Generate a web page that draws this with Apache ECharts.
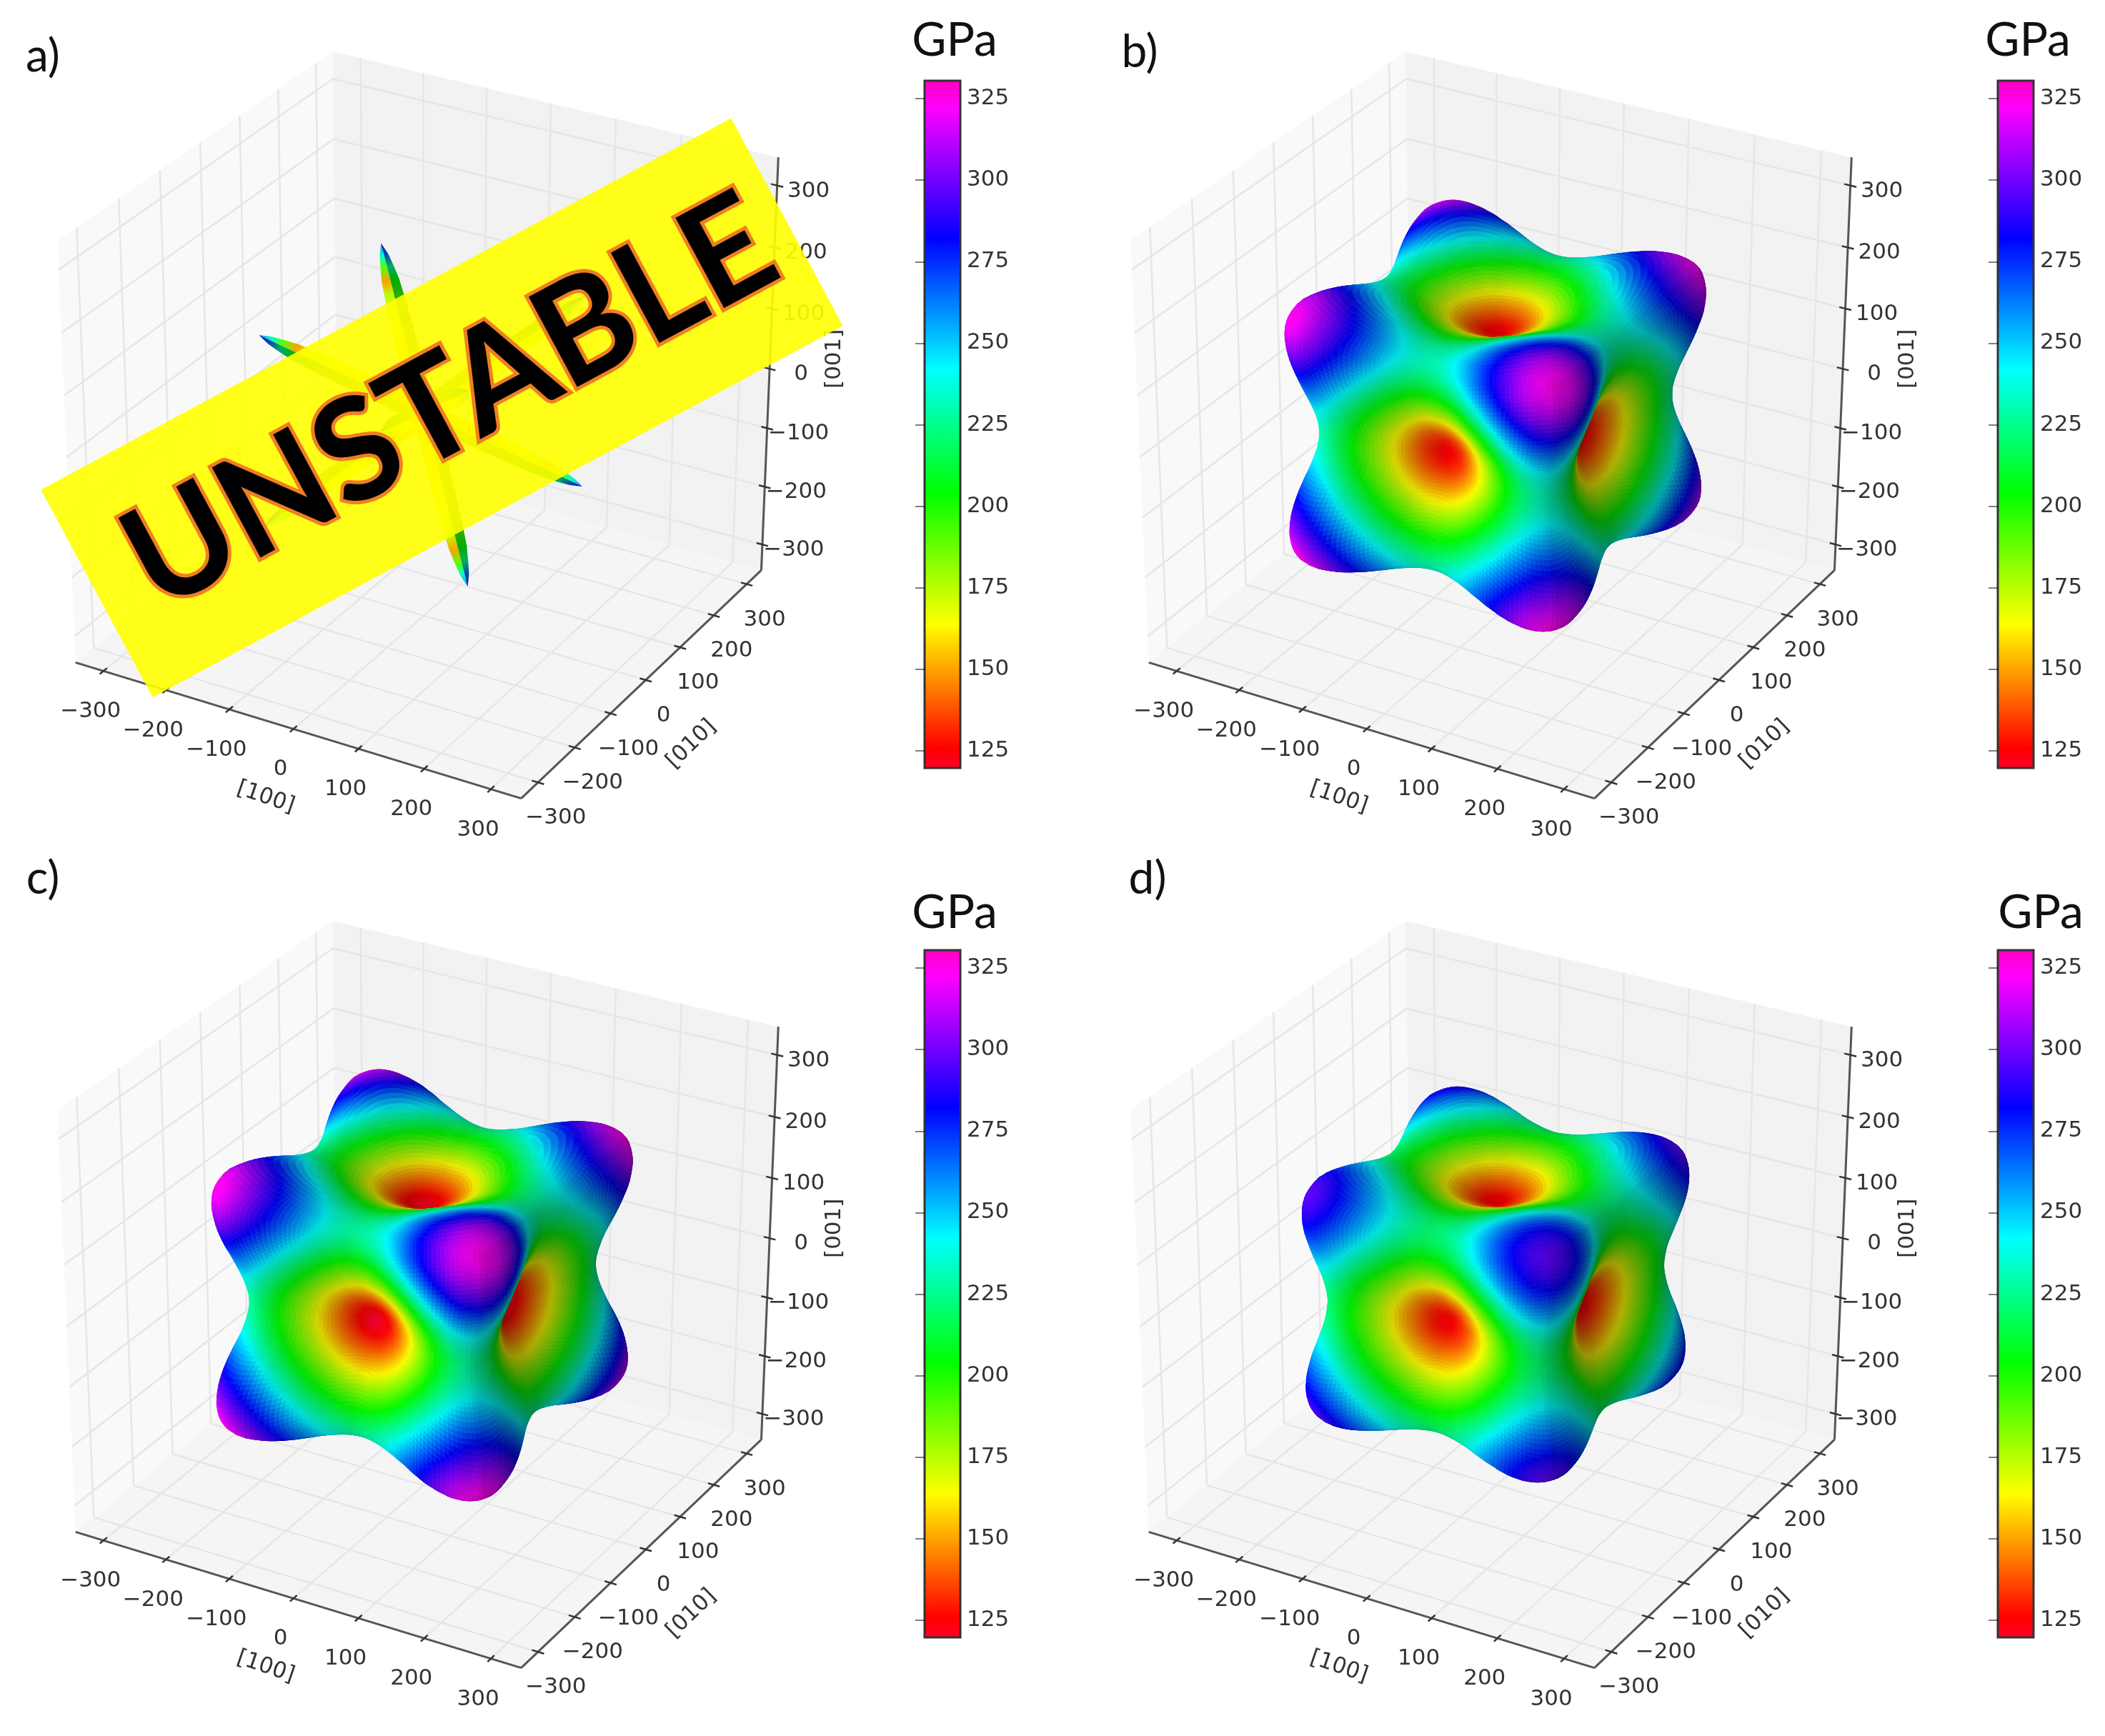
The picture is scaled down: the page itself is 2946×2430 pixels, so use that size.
<!DOCTYPE html>
<html>
<head>
<meta charset="utf-8">
<style>html,body{margin:0;background:#fff}#chart{width:2946px;height:2430px}</style>
<script src="https://cdn.jsdelivr.net/npm/echarts@6/dist/echarts.min.js"></script>
</head>
<body>
<div id="chart"></div>
<script>
// axis ticks shared by every panel
const tickValues = [-300, -200, -100, 0, 100, 200, 300];
const barTicks = [125, 150, 175, 200, 225, 250, 275, 300, 325];
const barRange = [119.7, 330.5];
const axisHalfRange = 345;

// colour scale of the bars
const colorValues = [119.7, 126, 164, 204, 242, 282, 322, 330.5];
const colorStops = ['#ff0029', '#ff0000', '#ffff00', '#00ff00', '#00ffff', '#0000ff', '#ff00ff', '#ff00bf'];

// stiffness in GPa over the irreducible wedge of directions
// row = angle from [100] towards [110], column = tilt towards [111], 5.625 deg steps
const modulusB = [
  [125],
  [127, 130],
  [134, 136, 143],
  [146, 148, 155, 167],
  [163, 165, 172, 185, 202],
  [184, 186, 193, 206, 223, 244],
  [206, 209, 216, 228, 245, 265, 286],
  [225, 227, 234, 245, 261, 280, 300, 315],
  [232, 234, 240, 250, 264, 281, 300, 317, 325]
];
const modulusC = [
  [120],
  [122, 124],
  [129, 131, 138],
  [141, 143, 150, 162],
  [157, 160, 167, 179, 197],
  [178, 181, 188, 201, 219, 240],
  [201, 204, 211, 224, 241, 262, 284],
  [220, 223, 230, 241, 258, 278, 299, 315],
  [228, 230, 236, 246, 260, 279, 299, 317, 325]
];
const modulusD = [
  [125],
  [127, 129],
  [134, 136, 142],
  [144, 147, 153, 164],
  [160, 162, 169, 180, 195],
  [179, 181, 187, 198, 213, 231],
  [199, 201, 207, 218, 232, 249, 266],
  [215, 217, 222, 232, 245, 261, 277, 289],
  [221, 223, 228, 236, 248, 262, 278, 291, 297]
];
const radiusPerGPa = 1.05;

// panel a: thin blades along the <111> directions
const bladeAxes = [[-1, -1, 1], [1, -1, -1], [1, 1, 1], [1, -1, 1]];
const bladeReach = [0, 0.2, 0.4, 0.6, 0.7, 0.78, 0.86, 0.93, 1];
const bladeHalfWidth = [16, 16, 15, 14, 13, 12, 9, 6, 0];
const bladeSideA = [155, 155, 160, 170, 175, 150, 190, 235, 262];
const bladeSideB = [165, 170, 175, 185, 195, 205, 225, 265, 285];
const bladeLength = 275;

const panelNames = ['a)', 'b)', 'c)', 'd)'];
const panelLeft = [0, 1502, 0, 1502];
const panelTop = [0, 0, 1217, 1217];
const panelNameX = [60, 1595, 60, 1606];
const panelNameY = [79, 73, 1230, 1230];
const gpaX = [1336, 2838, 1336, 2856];
const gpaY = [57, 57, 1278, 1278];

// view: elevation 30, azimuth -60, seen from distance 10
const right = [0.866, 0.5, 0];
const up = [-0.25, 0.433, 0.866];
const toEye = [0.433, -0.75, 0.5];
const lightDir = [-2 / 3, -2 / 3, 1 / 3];

function dot(a, b) { return a[0] * b[0] + a[1] * b[1] + a[2] * b[2]; }
function cross(a, b) {
  return [a[1] * b[2] - a[2] * b[1], a[2] * b[0] - a[0] * b[2], a[0] * b[1] - a[1] * b[0]];
}
function project(p) {
  const n = [p[0] / (2 * axisHalfRange), p[1] / (2 * axisHalfRange), p[2] / (2 * axisHalfRange)];
  const d = 10 - dot(n, toEye);
  return [dot(n, right) / d, dot(n, up) / d];
}

function gpaRgb(v) {
  let i = 0;
  while (i < colorValues.length - 2 && v > colorValues[i + 1]) i++;
  const f = Math.max(0, Math.min(1, (v - colorValues[i]) / (colorValues[i + 1] - colorValues[i])));
  const a = hex(colorStops[i]), b = hex(colorStops[i + 1]);
  return [a[0] + (b[0] - a[0]) * f, a[1] + (b[1] - a[1]) * f, a[2] + (b[2] - a[2]) * f];
}
function hex(s) {
  return [parseInt(s.slice(1, 3), 16), parseInt(s.slice(3, 5), 16), parseInt(s.slice(5, 7), 16)];
}
function rgbStr(c, k) {
  return 'rgb(' + Math.round(c[0] * k) + ',' + Math.round(c[1] * k) + ',' + Math.round(c[2] * k) + ')';
}

// table lookup with the mirror planes of the wedge, keeps the surface smooth across them
function cell(table, i, j) {
  for (let n = 0; n < 4; n++) {
    if (i < 0) i = -i;
    if (j < 0) j = -j;
    if (i > 8) i = 16 - i;
    if (j > i) { const s = i; i = j; j = s; }
  }
  return table[i][j];
}
function spline(a, b, c, d, t) {
  return b + 0.5 * t * (c - a + t * (2 * a - 5 * b + 4 * c - d + t * (3 * (b - c) + d - a)));
}
function modulusAt(table, dir) {
  const c = dir.map(Math.abs).sort((a, b) => b - a);
  const a = Math.atan2(c[1], c[0]) / (Math.PI / 32);
  const b = Math.atan2(c[2], c[0]) / (Math.PI / 32);
  const i = Math.min(7, Math.floor(a)), j = Math.min(7, Math.floor(b));
  const rows = [];
  for (let m = -1; m < 3; m++) {
    rows.push(spline(cell(table, i + m, j - 1), cell(table, i + m, j), cell(table, i + m, j + 1), cell(table, i + m, j + 2), b - j));
  }
  return spline(rows[0], rows[1], rows[2], rows[3], a - i);
}

// surface mesh of one panel, back to front
function buildSurface(table) {
  const nLat = 150, nLon = 300, verts = [];
  for (let i = 0; i <= nLat; i++) {
    const th = Math.PI * i / nLat;
    for (let j = 0; j < nLon; j++) {
      const ph = 2 * Math.PI * j / nLon;
      const dir = [Math.sin(th) * Math.cos(ph), Math.sin(th) * Math.sin(ph), Math.cos(th)];
      const e = modulusAt(table, dir), r = e * radiusPerGPa;
      verts.push({ e: e, p: [dir[0] * r, dir[1] * r, dir[2] * r], dir: dir });
    }
  }
  const quads = [];
  for (let i = 0; i < nLat; i++) {
    for (let j = 0; j < nLon; j++) {
      const jn = (j + 1) % nLon;
      const a = verts[i * nLon + j], b = verts[i * nLon + jn];
      const c = verts[(i + 1) * nLon + jn], d = verts[(i + 1) * nLon + j];
      const u = [c.p[0] - a.p[0], c.p[1] - a.p[1], c.p[2] - a.p[2]];
      const v = [d.p[0] - b.p[0], d.p[1] - b.p[1], d.p[2] - b.p[2]];
      let nrm = cross(u, v);
      const len = Math.hypot(nrm[0], nrm[1], nrm[2]);
      if (len < 1e-6) continue;
      nrm = [nrm[0] / len, nrm[1] / len, nrm[2] / len];
      if (dot(nrm, a.dir) < 0) nrm = [-nrm[0], -nrm[1], -nrm[2]];
      if (dot(nrm, toEye) <= 0) continue;
      const shade = 0.5 + 0.5 * (dot(nrm, lightDir) + 1) / 2;
      const e = (a.e + b.e + c.e + d.e) / 4;
      quads.push({
        pts: [project(a.p), project(b.p), project(c.p), project(d.p)],
        fill: rgbStr(gpaRgb(e), shade),
        depth: dot(a.p, toEye) + dot(c.p, toEye)
      });
    }
  }
  quads.sort((m, n) => m.depth - n.depth);
  return quads;
}

// panes, grid lines, axis lines, ticks and their labels
function buildFrame() {
  const L = axisHalfRange, out = [];
  const line = (a, b, color, width) => out.push({ kind: 'line', a: project(a), b: project(b), color: color, width: width });
  const text = (p, dx, dy, str, rot) => out.push({ kind: 'text', a: project(p), dx: dx, dy: dy, str: str, rot: rot || 0 });
  out.push({ kind: 'pane', fill: '#f9f9f9', pts: [[-L, -L, -L], [-L, -L, L], [-L, L, L], [-L, L, -L]].map(project) });
  out.push({ kind: 'pane', fill: '#f2f2f2', pts: [[-L, L, -L], [-L, L, L], [L, L, L], [L, L, -L]].map(project) });
  out.push({ kind: 'pane', fill: '#f5f5f5', pts: [[-L, -L, -L], [-L, L, -L], [L, L, -L], [L, -L, -L]].map(project) });
  tickValues.forEach(t => {
    line([t, -L, -L], [t, L, -L], '#e6e6e6', 2.5);
    line([t, L, -L], [t, L, L], '#e6e6e6', 2.5);
    line([-L, t, -L], [L, t, -L], '#e6e6e6', 2.5);
    line([-L, t, -L], [-L, t, L], '#e6e6e6', 2.5);
    line([-L, -L, t], [-L, L, t], '#e6e6e6', 2.5);
    line([-L, L, t], [L, L, t], '#e6e6e6', 2.5);
  });
  line([-L, -L, -L], [L, -L, -L], '#555', 3);
  line([L, -L, -L], [L, L, -L], '#555', 3);
  line([L, L, -L], [L, L, L], '#555', 3);
  tickValues.forEach(t => {
    const s = String(t).replace('-', '\u2212');
    line([t, -L + 9, -L], [t, -L - 9, -L], '#333', 2.5);
    line([L - 9, t, -L], [L + 9, t, -L], '#333', 2.5);
    line([L - 9, L, t], [L + 9, L, t], '#333', 2.5);
    text([t, -L, -L], -18, 57, s);
    text([L, t, -L], 25, 50, s);
    text([L, L, t], 44, 8, s);
  });
  text([0, -L, -L], -39, 96, '[100]', -0.33);
  text([L, 0, -L], 64, 90, '[010]', 0.77);
  text([L, L, 0], 91, -14, '[001]', Math.PI / 2);
  return out;
}

// blades of panel a: one gradient polygon per side of each arm
function buildBlades() {
  const out = [];
  bladeAxes.forEach(raw => {
    const axis = raw.map(v => v / Math.sqrt(3));
    let perp = cross(axis, toEye);
    const len = Math.hypot(perp[0], perp[1], perp[2]);
    perp = [perp[0] / len, perp[1] / len, perp[2] / len];
    [-1, 1].forEach(sign => {
      [[bladeSideA, 1, 1], [bladeSideB, -1, 0.68]].forEach(side => {
        const edge = bladeReach.map((f, i) => {
          const r = f * bladeLength * sign, w = bladeHalfWidth[i] * side[1];
          return project([axis[0] * r + perp[0] * w, axis[1] * r + perp[1] * w, axis[2] * r + perp[2] * w]);
        });
        const mid = bladeReach.map(f => {
          const r = f * bladeLength * sign;
          return project([axis[0] * r, axis[1] * r, axis[2] * r]);
        });
        out.push({
          pts: edge.concat(mid.slice().reverse()),
          from: mid[0], to: mid[mid.length - 1],
          stops: bladeReach.map((f, i) => ({ offset: f, color: rgbStr(gpaRgb(side[0][i]), side[2]) }))
        });
      });
    });
  });
  return out;
}

const frameItems = buildFrame();
const bladeItems = buildBlades();
const surfaces = [null, buildSurface(modulusB), buildSurface(modulusC), buildSurface(modulusD)];

function renderFrame(params, api) {
  const it = frameItems[params.dataIndex];
  if (it.kind === 'pane') {
    return { type: 'polygon', silent: true, shape: { points: it.pts.map(p => api.coord(p)) }, style: { fill: it.fill } };
  }
  if (it.kind === 'line') {
    const a = api.coord(it.a), b = api.coord(it.b);
    return { type: 'line', silent: true, shape: { x1: a[0], y1: a[1], x2: b[0], y2: b[1] }, style: { stroke: it.color, lineWidth: it.width } };
  }
  const a = api.coord(it.a);
  return {
    type: 'text', silent: true, x: a[0] + it.dx, y: a[1] + it.dy, rotation: it.rot,
    style: { text: it.str, fill: '#333', fontSize: 31, fontFamily: 'DejaVu Sans', textAlign: 'center', textVerticalAlign: 'middle' }
  };
}
function renderBlade(params, api) {
  const it = bladeItems[params.dataIndex];
  const a = api.coord(it.from), b = api.coord(it.to);
  return {
    type: 'polygon', silent: true, shape: { points: it.pts.map(p => api.coord(p)) },
    style: { fill: new echarts.graphic.LinearGradient(a[0], a[1], b[0], b[1], it.stops, true) }
  };
}
function surfaceRenderer(quads) {
  return function (params, api) {
    const q = quads[params.dataIndex];
    return {
      type: 'polygon', silent: true, shape: { points: q.pts.map(p => api.coord(p)) },
      style: { fill: q.fill, stroke: q.fill, lineWidth: 0.7 }
    };
  };
}
function renderBar(params, api) {
  const a = api.coord([0, barRange[1]]), b = api.coord([1, barRange[0]]);
  const stops = colorValues.map((v, i) => ({ offset: (v - barRange[0]) / (barRange[1] - barRange[0]), color: colorStops[i] }));
  return {
    type: 'rect', silent: true, shape: { x: a[0], y: a[1], width: b[0] - a[0], height: b[1] - a[1] },
    style: { fill: new echarts.graphic.LinearGradient(0, 1, 0, 0, stops), stroke: '#333', lineWidth: 3 }
  };
}

const grid = [], xAxis = [], yAxis = [], series = [];
panelNames.forEach((name, i) => {
  grid.push({ left: 17 + panelLeft[i], top: 4 + panelTop[i], width: 1152, height: 1146 });
  xAxis.push({ type: 'value', gridIndex: i, min: -0.08, max: 0.08, show: false });
  yAxis.push({ type: 'value', gridIndex: i, min: -0.085, max: 0.085, show: false });
  series.push({
    type: 'custom', coordinateSystem: 'cartesian2d', xAxisIndex: i, yAxisIndex: i, z: 1, clip: false,
    progressive: 0, animation: false, silent: true,
    renderItem: renderFrame, data: frameItems.map((d, k) => [k])
  });
  if (surfaces[i]) {
    series.push({
      type: 'custom', coordinateSystem: 'cartesian2d', xAxisIndex: i, yAxisIndex: i, z: 2, clip: false,
      progressive: 0, animation: false, silent: true,
      renderItem: surfaceRenderer(surfaces[i]), data: surfaces[i].map((d, k) => [k])
    });
  } else {
    series.push({
      type: 'custom', coordinateSystem: 'cartesian2d', xAxisIndex: i, yAxisIndex: i, z: 2, clip: false,
      progressive: 0, animation: false, silent: true,
      renderItem: renderBlade, data: bladeItems.map((d, k) => [k])
    });
  }
});
panelNames.forEach((name, i) => {
  const g = i + panelNames.length;
  grid.push({ left: 1294 + panelLeft[i], top: 113 + panelTop[i], width: 50, height: 962 });
  xAxis.push({ type: 'value', gridIndex: g, min: 0, max: 1, show: false });
  yAxis.push({
    type: 'value', gridIndex: g, min: barRange[0], max: barRange[1], position: 'right', z: 5,
    splitLine: { show: false }, axisLine: { show: false },
    axisTick: { show: true, inside: true, length: 13, customValues: barTicks, lineStyle: { color: 'rgba(0,0,0,0.5)', width: 2 } },
    axisLabel: { show: true, customValues: barTicks, margin: 9, fontSize: 31, fontFamily: 'DejaVu Sans', color: '#333' }
  });
  series.push({
    type: 'custom', coordinateSystem: 'cartesian2d', xAxisIndex: g, yAxisIndex: g, z: 2, clip: false,
    animation: false, silent: true, renderItem: renderBar, data: [[0, barRange[0]]]
  });
});

const captionFont = { fontFamily: 'Lato', fill: '#111', textAlign: 'center', textVerticalAlign: 'middle' };
const graphic = [];
panelNames.forEach((name, i) => {
  graphic.push({ type: 'text', x: panelNameX[i], y: panelNameY[i], z: 10, style: Object.assign({ text: name, fontSize: 64 }, captionFont) });
  graphic.push({ type: 'text', x: gpaX[i], y: gpaY[i], z: 10, style: Object.assign({ text: 'GPa', fontSize: 66 }, captionFont) });
});
// the stamp across panel a
graphic.push({
  type: 'rect', x: 618, y: 571, rotation: 0.494, z: 10,
  shape: { x: -548, y: -165, width: 1097, height: 330 },
  style: { fill: 'rgba(255,255,0,0.9)' }
});
graphic.push({
  type: 'text', x: 630, y: 565, rotation: 0.494, z: 11,
  style: {
    text: 'UNSTABLE', fontFamily: 'Lato', fontWeight: 'bold', fontSize: 198, fill: '#000',
    stroke: '#ef7f24', lineWidth: 10, textAlign: 'center', textVerticalAlign: 'middle'
  }
});

const chart = echarts.init(document.getElementById('chart'));
chart.setOption({ animation: false, backgroundColor: '#fff', grid, xAxis, yAxis, series, graphic });
</script>
</body>
</html>
